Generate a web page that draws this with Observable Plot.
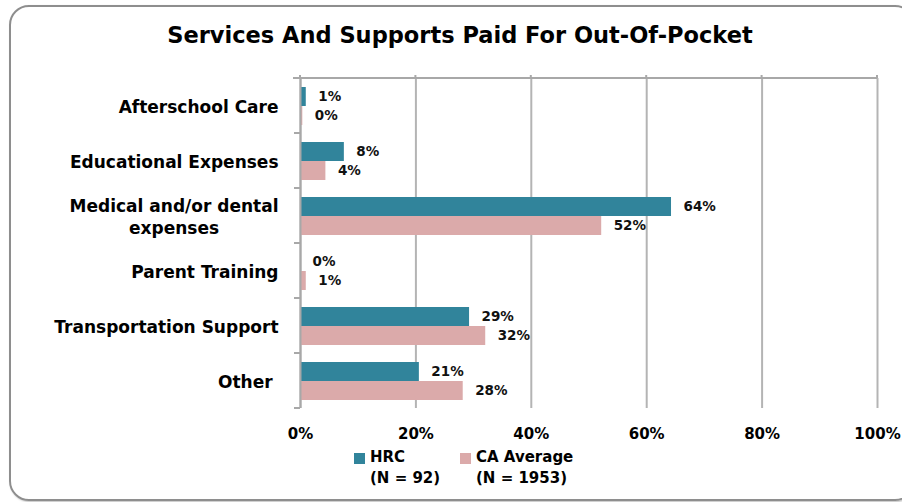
<!DOCTYPE html>
<html>
<head>
<meta charset="utf-8">
<script src="https://cdn.jsdelivr.net/npm/d3@7"></script>
<script src="https://cdn.jsdelivr.net/npm/@observablehq/plot@0.6"></script>
<style>
  html, body { margin: 0; padding: 0; background: #fff; }
  #wrap { position: relative; width: 902px; height: 502px; overflow: hidden; font-family: "DejaVu Sans", sans-serif; font-weight: bold; color: #000; }
  #frame { position: absolute; left: 9px; top: 5px; width: 906px; height: 496px; box-sizing: border-box; border: 2px solid #8e8e8e; border-radius: 20px; box-shadow: 1px 1px 2px rgba(0,0,0,0.25); }
  #title { position: absolute; left: 9px; width: 902px; top: 22px; text-align: center; font-size: 22.5px; line-height: 27px; }
  #chart { position: absolute; left: 0; top: 0; }
  .sw { position: absolute; width: 11px; height: 11px; }
  .lt { position: absolute; font-size: 15px; line-height: 21px; white-space: pre; }
</style>
</head>
<body>
<div id="wrap">
  <div id="frame"></div>
  <div id="chart"></div>
  <div id="title"></div>
  <div id="legend"></div>
</div>
<script>
// ---- data ----
const title = "Services And Supports Paid For Out-Of-Pocket";
const categories = ["Afterschool Care", "Educational Expenses", "Medical and/or dental\nexpenses", "Parent Training", "Transportation Support", "Other "];
const series = ["HRC", "CA Average"];
const seriesN = ["(N = 92)", "(N = 1953)"];
const hrcValues = [1.0, 7.6, 64.3, 0, 29.3, 20.6];
const caValues = [0.4, 4.4, 52.2, 1.0, 32.1, 28.2];
const xTicks = [0, 20, 40, 60, 80, 100];
const colors = ["#31849b", "#dbaaaa"];

// ---- table ----
const valuesBySeries = [hrcValues, caValues];
const rows = categories.flatMap((c, i) => series.map((s, j) => ({category: c, series: s, value: valuesBySeries[j][i]})));

const FONT = '"DejaVu Sans", sans-serif';
const ctx = document.createElement("canvas").getContext("2d");
ctx.font = 'bold 17px "DejaVu Sans"';

const labelMarks = categories.map(c => {
  const w = d3.max(c.split("\n"), l => ctx.measureText(l).width);
  return Plot.text([c], {
    fy: d => d, text: d => d, frameAnchor: "left", textAnchor: "middle",
    dx: -(22 + w / 2), fontSize: 17, fontWeight: "bold", lineHeight: 1.3, fill: "#000"
  });
});

const plot = Plot.plot({
  width: 902, height: 502,
  marginLeft: 300, marginRight: 25, marginTop: 76, marginBottom: 92,
  style: {fontFamily: FONT, fontWeight: "bold", background: "transparent", color: "#000", overflow: "visible"},
  x: {domain: [0, 100], axis: null},
  y: {domain: series, paddingInner: 0, paddingOuter: 0.43, axis: null},
  fy: {domain: categories, padding: 0, axis: null},
  color: {domain: series, range: colors},
  marks: [
    Plot.ruleX(xTicks, {stroke: "#b4b4b4", strokeWidth: 2}),
    Plot.barX(rows, {fy: "category", y: "series", x: "value", fill: "series"}),
    Plot.ruleX([0], {stroke: "#a8a8a8", strokeWidth: 2}),
    Plot.text(rows, {fy: "category", y: "series", x: "value", text: d => Math.round(d.value) + "%", textAnchor: "start", dx: 12, fontSize: 13.5, fontWeight: "bold", fill: "#111"}),
    ...labelMarks,
    Plot.axisX({anchor: "bottom", ticks: xTicks, tickSize: 0, tickPadding: 20, tickFormat: d => d + "%", fontSize: 15, fontWeight: "bold", label: null})
  ]
});
document.getElementById("chart").appendChild(plot);

// extra axis lines (Excel-style category boundary ticks and top line), positioned from the plot's scales
const fyS = plot.scale("fy"), xS = plot.scale("x");
const x0 = xS.apply(0), x1 = xS.apply(100);
const bounds = categories.map(c => fyS.apply(c));
bounds.push(bounds[bounds.length - 1] + fyS.bandwidth);
const g = d3.select(plot).append("g").attr("stroke", "#a8a8a8").attr("stroke-width", 2);
g.append("line").attr("x1", x0 - 7).attr("x2", x1).attr("y1", bounds[0]).attr("y2", bounds[0]);
bounds.slice(1).forEach(b => g.append("line").attr("x1", x0 - 6).attr("x2", x0).attr("y1", b).attr("y2", b));
xTicks.forEach(t => g.append("line").attr("x1", xS.apply(t)).attr("x2", xS.apply(t)).attr("y1", bounds[0] - 3).attr("y2", bounds[0]));

// title & legend
document.getElementById("title").textContent = title;
const legend = document.getElementById("legend");
const legendX = [354, 460];
series.forEach((s, i) => {
  const sw = document.createElement("div");
  sw.className = "sw"; sw.style.left = legendX[i] + "px"; sw.style.top = "453px"; sw.style.background = colors[i];
  legend.appendChild(sw);
  const t = document.createElement("div");
  t.className = "lt"; t.style.left = (legendX[i] + 16) + "px"; t.style.top = "447px";
  t.textContent = s + "\n" + seriesN[i];
  legend.appendChild(t);
});
</script>
</body>
</html>
